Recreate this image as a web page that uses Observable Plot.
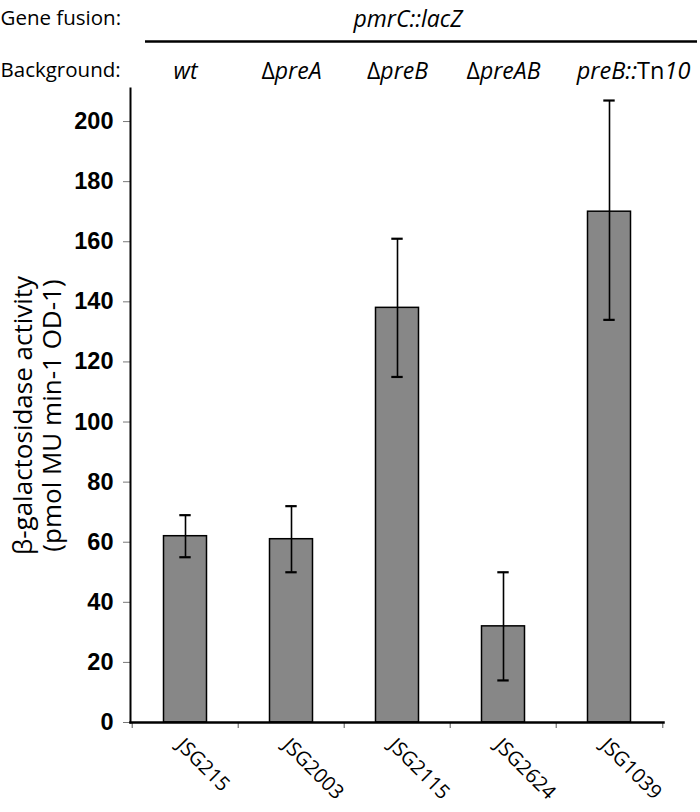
<!DOCTYPE html>
<html><head><meta charset="utf-8">
<script src="https://cdn.jsdelivr.net/npm/d3@7"></script>
<script src="https://cdn.jsdelivr.net/npm/@observablehq/plot@0.6"></script>
<style>html,body{margin:0;padding:0;background:#fff} svg{display:block}</style>
</head><body><div id="chart"></div>
<script>
const strains = ["JSG215", "JSG2003", "JSG2115", "JSG2624", "JSG1039"];
const backgrounds = ["wt", "ΔpreA", "ΔpreB", "ΔpreAB", "preB::Tn10"];
const activity = [62, 61, 138, 32, 170];
const errLow = [55, 50, 115, 14, 134];
const errHigh = [69, 72, 161, 50, 207];
const yTicks = [0, 20, 40, 60, 80, 100, 120, 140, 160, 180, 200];
const geneFusion = "pmrC::lacZ";
const yLabel = "β-galactosidase activity\n(pmol MU min-1 OD-1)";

const data = strains.map((s, i) => ({strain: s, background: backgrounds[i], value: activity[i], lo: errLow[i], hi: errHigh[i]}));

const sans = "'Open Sans', 'Noto Sans', sans-serif";
const half = (663 - 130) / strains.length / 2;

const plot = Plot.plot({
  width: 700, height: 812,
  marginTop: 88, marginBottom: 90, marginLeft: 130, marginRight: 37,
  style: {fontFamily: sans, background: "#fff", color: "#000"},
  x: {domain: strains, padding: 0, axis: null},
  y: {domain: [0, 211], axis: null},
  marks: [
    Plot.barY(data, {x: "strain", y: "value", fill: "#878787", stroke: "#000", strokeWidth: 1.5, insetLeft: 31.5, insetRight: 31.5}),
    Plot.ruleX(data, {x: "strain", y1: "lo", y2: "hi", stroke: "#000", strokeWidth: 1.6}),
    Plot.tickY(data, {x: "strain", y: "lo", stroke: "#000", strokeWidth: 2.2, insetLeft: half - 6, insetRight: half - 6}),
    Plot.tickY(data, {x: "strain", y: "hi", stroke: "#000", strokeWidth: 2.2, insetLeft: half - 6, insetRight: half - 6}),
    // y axis ticks and labels
    Plot.axisY({ticks: yTicks, tickSize: 7, tickFormat: () => "", stroke: "#777", label: null}),
    Plot.axisY({ticks: yTicks, tickSize: 0, tickPadding: 17, label: null, fontSize: 23.5, fontWeight: "bold", fontFamily: "'Liberation Sans', Arial, sans-serif", fill: "#000"}),
    // x axis boundary ticks
    Plot.axisX({ticks: strains, tickSize: 6, tickFormat: () => "", dx: -half, stroke: "#555", label: null}),
    Plot.axisX({ticks: strains.slice(-1), tickSize: 6, tickFormat: () => "", dx: half, stroke: "#555", label: null}),
    // axis lines
    Plot.frame({anchor: "left", stroke: "#000", strokeWidth: 2}),
    Plot.frame({anchor: "bottom", stroke: "#000", strokeWidth: 2.5}),
    // rotated strain labels
    Plot.text(strains, {x: d => d, frameAnchor: "bottom", rotate: 45, textAnchor: "start", dx: -10, dy: 24, fontSize: 20}),
    // header
    Plot.text(["Gene fusion:"], {frameAnchor: "top-left", textAnchor: "start", dx: -130, dy: -78, fontSize: 20.5}),
    Plot.text(["Background:"], {frameAnchor: "top-left", textAnchor: "start", dx: -130, dy: -26, fontSize: 20.5}),
    Plot.text([geneFusion], {frameAnchor: "top", dx: 11, dy: -78, fontSize: 23, fontStyle: "italic"}),
    Plot.ruleY([211], {dy: -47, insetLeft: 15, insetRight: -34, stroke: "#000", strokeWidth: 2.5}),
    Plot.text(data.slice(0, 4), {x: "strain", text: "background", frameAnchor: "top", dy: -26, fontSize: 23}),
    Plot.text(data.slice(4), {x: "strain", text: "background", frameAnchor: "top", dx: 24, dy: -26, fontSize: 23.5}),
    // y label
    Plot.text([yLabel], {frameAnchor: "left", textAnchor: "middle", rotate: -90, dx: -93, dy: 10, fontSize: 26, lineHeight: 1.12})
  ]
});

// mixed italic / upright styling of genotype labels
d3.select(plot).selectAll("text").each(function() {
  const t = this.textContent;
  if (!backgrounds.includes(t)) return;
  const parts = [];
  if (t.startsWith("Δ")) { parts.push(["Δ", "normal"], [t.slice(1), "italic"]); }
  else if (t.includes("::Tn")) {
    const [a, b] = t.split("::Tn");
    parts.push([a + "::", "italic"], ["Tn", "normal"], [b, "italic"]);
  } else parts.push([t, "italic"]);
  const sel = d3.select(this);
  sel.text("");
  for (const [s, st] of parts) sel.append("tspan").attr("font-style", st).text(s);
});

document.getElementById("chart").appendChild(plot);
</script>
</body></html>
